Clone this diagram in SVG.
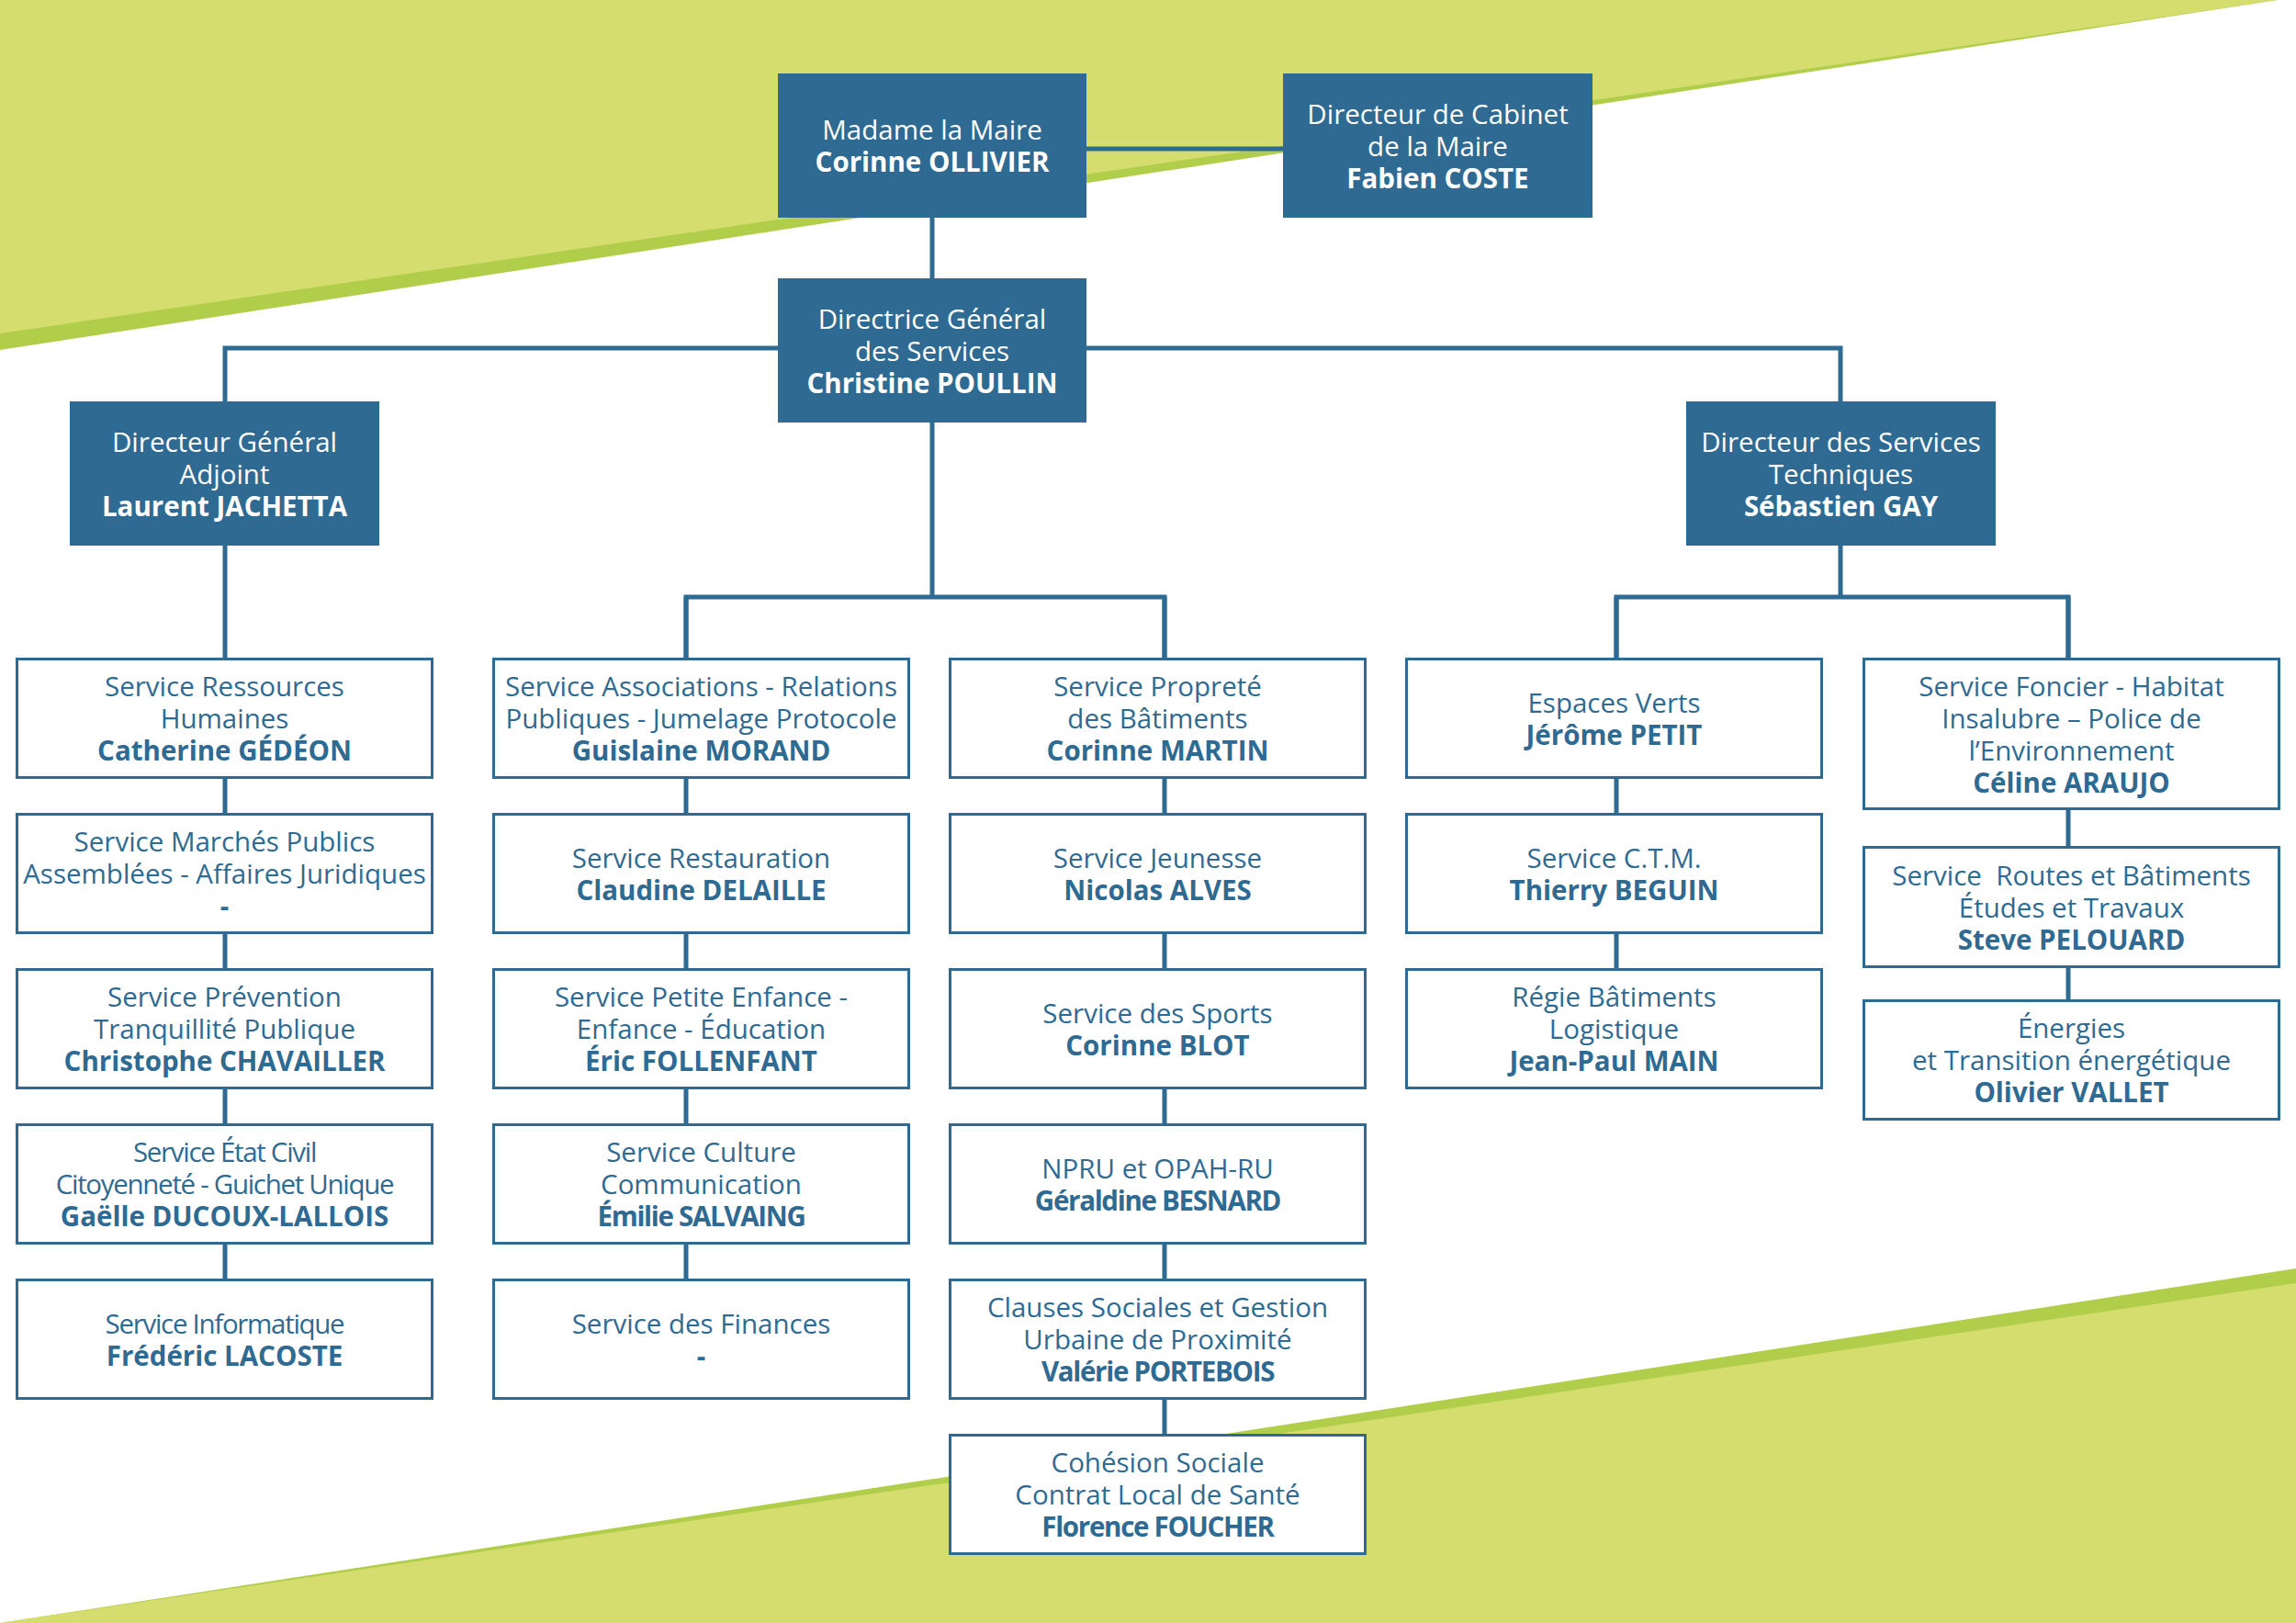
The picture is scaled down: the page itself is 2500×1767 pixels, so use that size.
<svg xmlns="http://www.w3.org/2000/svg" width="2500" height="1767" viewBox="0 0 2500 1767">
<style>
text{font-family:"Open Sans","Noto Sans","Liberation Sans",sans-serif;font-size:29.5px;text-anchor:middle}
.w{fill:#2e6a92}
.t{fill:#ffffff}
.b{font-weight:700}
.c{letter-spacing:-1.3px}
.top rect{fill:#2e6a92}
.svc rect{fill:#ffffff;stroke:#2e6a92;stroke-width:3}
.svc text{fill:#2e6a92}
.top text{fill:#ffffff}
#connectors path{fill:none;stroke:#2e6a92;stroke-width:5}
</style>
<rect x="0" y="0" width="2500" height="1767" fill="#ffffff"/>
<g id="background">
<polygon points="0,0 2480,0 0,381" fill="#b1ce4b"/>
<polygon points="0,0 2480,0 0,363" fill="#d5dd6f"/>
<polygon points="0,1767 2500,1381 2500,1767" fill="#b1ce4b"/>
<polygon points="0,1767 2500,1397 2500,1767" fill="#d5dd6f"/>
</g>
<g id="connectors">
<path d="M1183 162H1397"/>
<path d="M1015 237V303"/>
<path d="M245 437V379H2004V437"/>
<path d="M1015 460V650"/>
<path d="M747 716V650H1268V716"/>
<path d="M2004 594V650"/>
<path d="M1760 716V650H2252V716"/>
<path d="M245 594V1392"/>
<path d="M747 650V1392"/>
<path d="M1268 650V1561"/>
<path d="M1760 650V1054"/>
<path d="M2252 650V1088"/>
</g>
<g class="top">
<g id="maire"><rect x="847" y="80" width="336" height="157"/><text><tspan x="1015" y="152">Madame la Maire</tspan><tspan class="b" x="1015" y="187">Corinne OLLIVIER</tspan></text></g>
<g id="cabinet"><rect x="1397" y="80" width="337" height="157"/><text><tspan x="1565.5" y="134.5">Directeur de Cabinet</tspan><tspan x="1565.5" y="169.5">de la Maire</tspan><tspan class="b" x="1565.5" y="204.5">Fabien COSTE</tspan></text></g>
<g id="dgs"><rect x="847" y="303" width="336" height="157"/><text><tspan x="1015" y="357.5">Directrice Général</tspan><tspan x="1015" y="392.5">des Services</tspan><tspan class="b" x="1015" y="427.5">Christine POULLIN</tspan></text></g>
<g id="dga"><rect x="76" y="437" width="337" height="157"/><text><tspan x="244.5" y="491.5">Directeur Général</tspan><tspan x="244.5" y="526.5">Adjoint</tspan><tspan class="b" x="244.5" y="561.5">Laurent JACHETTA</tspan></text></g>
<g id="dst"><rect x="1836" y="437" width="337" height="157"/><text><tspan x="2004.5" y="491.5">Directeur des Services</tspan><tspan x="2004.5" y="526.5">Techniques</tspan><tspan class="b" x="2004.5" y="561.5">Sébastien GAY</tspan></text></g>
</g>
<g class="svc">
<g id="rh"><rect x="18.5" y="717.5" width="452" height="129"/><text><tspan x="244.5" y="758">Service Ressources</tspan><tspan x="244.5" y="793">Humaines</tspan><tspan class="b" x="244.5" y="828">Catherine GÉDÉON</tspan></text></g>
<g id="marches"><rect x="18.5" y="886.5" width="452" height="129"/><text><tspan x="244.5" y="927">Service Marchés Publics</tspan><tspan x="244.5" y="962">Assemblées - Affaires Juridiques</tspan><tspan class="b" x="244.5" y="997">-</tspan></text></g>
<g id="prevention"><rect x="18.5" y="1055.5" width="452" height="129"/><text><tspan x="244.5" y="1096">Service Prévention</tspan><tspan x="244.5" y="1131">Tranquillité Publique</tspan><tspan class="b" x="244.5" y="1166">Christophe CHAVAILLER</tspan></text></g>
<g id="etatcivil"><rect x="18.5" y="1224.5" width="452" height="129"/><text><tspan class="c" x="244.5" y="1265">Service État Civil</tspan><tspan class="c" x="244.5" y="1300">Citoyenneté - Guichet Unique</tspan><tspan class="b" x="244.5" y="1335">Gaëlle DUCOUX-LALLOIS</tspan></text></g>
<g id="informatique"><rect x="18.5" y="1393.5" width="452" height="129"/><text><tspan class="c" x="244.5" y="1451.5">Service Informatique</tspan><tspan class="b" x="244.5" y="1486.5">Frédéric LACOSTE</tspan></text></g>

<g id="associations"><rect x="537.5" y="717.5" width="452" height="129"/><text><tspan x="763.5" y="758">Service Associations - Relations</tspan><tspan x="763.5" y="793">Publiques - Jumelage Protocole</tspan><tspan class="b" x="763.5" y="828">Guislaine MORAND</tspan></text></g>
<g id="restauration"><rect x="537.5" y="886.5" width="452" height="129"/><text><tspan x="763.5" y="944.5">Service Restauration</tspan><tspan class="b" x="763.5" y="979.5">Claudine DELAILLE</tspan></text></g>
<g id="enfance"><rect x="537.5" y="1055.5" width="452" height="129"/><text><tspan x="763.5" y="1096">Service Petite Enfance -</tspan><tspan x="763.5" y="1131">Enfance - Éducation</tspan><tspan class="b" x="763.5" y="1166">Éric FOLLENFANT</tspan></text></g>
<g id="culture"><rect x="537.5" y="1224.5" width="452" height="129"/><text><tspan x="763.5" y="1265">Service Culture</tspan><tspan x="763.5" y="1300">Communication</tspan><tspan class="b c" x="763.5" y="1335">Émilie SALVAING</tspan></text></g>
<g id="finances"><rect x="537.5" y="1393.5" width="452" height="129"/><text><tspan x="763.5" y="1451.5">Service des Finances</tspan><tspan class="b" x="763.5" y="1486.5">-</tspan></text></g>

<g id="proprete"><rect x="1034.5" y="717.5" width="452" height="129"/><text><tspan x="1260.5" y="758">Service Propreté</tspan><tspan x="1260.5" y="793">des Bâtiments</tspan><tspan class="b" x="1260.5" y="828">Corinne MARTIN</tspan></text></g>
<g id="jeunesse"><rect x="1034.5" y="886.5" width="452" height="129"/><text><tspan x="1260.5" y="944.5">Service Jeunesse</tspan><tspan class="b" x="1260.5" y="979.5">Nicolas ALVES</tspan></text></g>
<g id="sports"><rect x="1034.5" y="1055.5" width="452" height="129"/><text><tspan x="1260.5" y="1113.5">Service des Sports</tspan><tspan class="b" x="1260.5" y="1148.5">Corinne BLOT</tspan></text></g>
<g id="npru"><rect x="1034.5" y="1224.5" width="452" height="129"/><text><tspan x="1260.5" y="1282.5">NPRU et OPAH-RU</tspan><tspan class="b c" x="1260.5" y="1317.5">Géraldine BESNARD</tspan></text></g>
<g id="clauses"><rect x="1034.5" y="1393.5" width="452" height="129"/><text><tspan x="1260.5" y="1434">Clauses Sociales et Gestion</tspan><tspan x="1260.5" y="1469">Urbaine de Proximité</tspan><tspan class="b c" x="1260.5" y="1504">Valérie PORTEBOIS</tspan></text></g>
<g id="cohesion"><rect x="1034.5" y="1562.5" width="452" height="129"/><text><tspan x="1260.5" y="1603">Cohésion Sociale</tspan><tspan x="1260.5" y="1638">Contrat Local de Santé</tspan><tspan class="b c" x="1260.5" y="1673">Florence FOUCHER</tspan></text></g>

<g id="espacesverts"><rect x="1531.5" y="717.5" width="452" height="129"/><text><tspan x="1757.5" y="775.5">Espaces Verts</tspan><tspan class="b" x="1757.5" y="810.5">Jérôme PETIT</tspan></text></g>
<g id="ctm"><rect x="1531.5" y="886.5" width="452" height="129"/><text><tspan x="1757.5" y="944.5">Service C.T.M.</tspan><tspan class="b" x="1757.5" y="979.5">Thierry BEGUIN</tspan></text></g>
<g id="regie"><rect x="1531.5" y="1055.5" width="452" height="129"/><text><tspan x="1757.5" y="1096">Régie Bâtiments</tspan><tspan x="1757.5" y="1131">Logistique</tspan><tspan class="b" x="1757.5" y="1166">Jean-Paul MAIN</tspan></text></g>

<g id="foncier"><rect x="2029.5" y="717.5" width="452" height="163"/><text><tspan x="2255.5" y="757.5">Service Foncier - Habitat</tspan><tspan x="2255.5" y="792.5">Insalubre – Police de</tspan><tspan x="2255.5" y="827.5">l’Environnement</tspan><tspan class="b" x="2255.5" y="862.5">Céline ARAUJO</tspan></text></g>
<g id="routes"><rect x="2029.5" y="922.5" width="452" height="130"/><text xml:space="preserve"><tspan x="2255.5" y="963.5">Service  Routes et Bâtiments</tspan><tspan x="2255.5" y="998.5">Études et Travaux</tspan><tspan class="b" x="2255.5" y="1033.5">Steve PELOUARD</tspan></text></g>
<g id="energies"><rect x="2029.5" y="1089.5" width="452" height="129"/><text><tspan x="2255.5" y="1130">Énergies</tspan><tspan x="2255.5" y="1165">et Transition énergétique</tspan><tspan class="b" x="2255.5" y="1200">Olivier VALLET</tspan></text></g>
</g>
</svg>
